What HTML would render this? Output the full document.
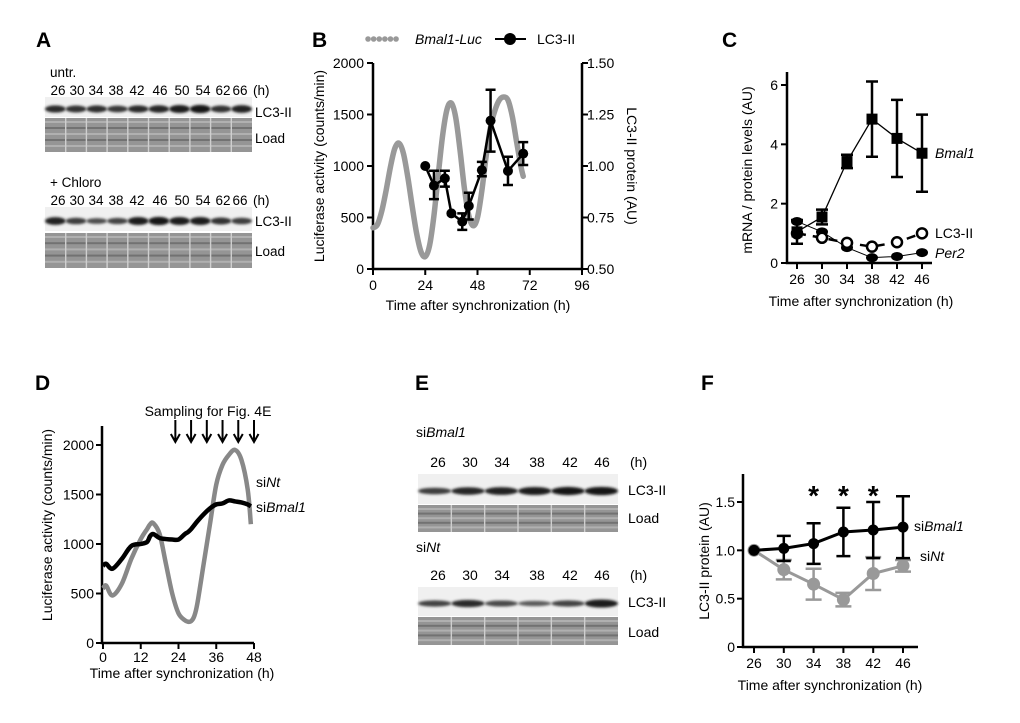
<!DOCTYPE html>
<html><head><meta charset="utf-8">
<style>
html,body{margin:0;padding:0;background:#fff;}
svg{display:block;font-family:"Liberation Sans",Arial,sans-serif;}
.t{font-size:14px;fill:#000;}
#gA .t{font-size:13.5px;}
.lab{font-size:21px;font-weight:bold;fill:#000;}
</style></head>
<body>
<svg id="fig" width="1020" height="723" viewBox="0 0 1020 723">
<defs>
<filter id="blur1" x="-20%" y="-100%" width="140%" height="300%"><feGaussianBlur stdDeviation="1.4"/></filter>
</defs>
<text class="lab" x="36" y="47">A</text>
<text class="lab" x="312" y="47">B</text>
<text class="lab" x="722" y="47">C</text>
<text class="lab" x="35" y="390">D</text>
<text class="lab" x="415" y="390">E</text>
<text class="lab" x="701" y="390">F</text>

<g id="gA"></g>
<g id="gB"></g>
<g id="gC"></g>
<g id="gD"></g>
<g id="gE"></g>
<g id="gF"></g>
</svg>
<script>
// ---------- DATA ----------
const aTimes = ["26","30","34","38","42","46","50","54","62","66"];
const aUntrBand = [0.75,0.7,0.72,0.65,0.75,0.8,0.9,0.95,0.7,0.85];
const aChloroBand = [0.85,0.6,0.45,0.55,0.9,0.95,0.9,0.9,0.7,0.6];
const bLucT = [0,2,4,6,8,10,12,14,16,18,20,22,24,26,28,30,32,34,36,38,40,42,44,46,48,50,52,54,56,58,60,62,64,66,68,69];
const bLucV = [400,430,560,760,990,1170,1220,1120,890,610,350,170,120,230,520,920,1300,1550,1610,1470,1150,780,520,420,500,760,1100,1380,1540,1640,1670,1640,1480,1230,990,900];
const bLcT = [24,28,33,36,41,44,50,54,62,69];
const bLcV = [1.00,0.905,0.94,0.77,0.73,0.806,0.98,1.22,0.976,1.06];
const bLcLo = [null,0.839,0.90,null,0.69,0.74,0.95,1.07,0.908,1.005];
const bLcHi = [null,0.977,0.977,null,0.77,0.87,1.02,1.37,1.045,1.116];
const bXTicks = [0,24,48,72,96];
const bYTicks = [0,500,1000,1500,2000];
const bY2Ticks = ["0.50","0.75","1.00","1.25","1.50"];
const cT = [26,30,34,38,42,46];
const cBmal = [1.05,1.55,3.42,4.85,4.2,3.7];
const cBmalLo = [0.65,1.3,3.2,3.58,2.9,2.4];
const cBmalHi = [1.45,1.8,3.65,6.12,5.5,5.0];
const cLc3 = [1.0,0.85,0.68,0.55,0.7,1.0];
const cPer2 = [1.4,1.05,0.52,0.18,0.22,0.35];
const cYTicks = [0,2,4,6];
const dT = [0,1,3,6,9,12,14,15,16,18,20,22,24,26,27,28,29,30,32,34,36,38,40,42,44,46,47];
const dNt = [550,580,480,600,850,1050,1150,1200,1210,1100,800,500,300,230,215,220,270,400,800,1200,1600,1800,1900,1950,1850,1550,1200];
const dBmal = [780,800,750,850,980,1000,1020,1080,1100,1060,1050,1045,1045,1100,1120,1150,1190,1230,1300,1360,1400,1410,1440,1430,1420,1400,1380];
const dArrows = [23,28,33,38,43,48];
const dXTicks = [0,12,24,36,48];
const dYTicks = [0,500,1000,1500,2000];
const eTimes = ["26","30","34","38","42","46"];
const eBmalBand = [0.6,0.8,0.85,0.9,0.92,0.95];
const eNtBand = [0.55,0.75,0.5,0.35,0.55,0.9];
const fT = [26,30,34,38,42,46];
const fBmal = [1.0,1.02,1.07,1.19,1.21,1.24];
const fBmalLo = [null,0.89,0.86,0.94,0.92,0.92];
const fBmalHi = [null,1.15,1.28,1.44,1.50,1.56];
const fNt = [1.0,0.80,0.65,0.49,0.76,0.84];
const fNtLo = [null,0.70,0.49,0.42,0.59,0.78];
const fNtHi = [null,0.90,0.81,0.56,0.93,0.90];
const fStars = [34,38,42];
const fYTicks = ["0","0.5","1.0","1.5"];

// ---------- HELPERS ----------
const NS="http://www.w3.org/2000/svg";
function mk(parent,tag,attrs,text){const e=document.createElementNS(NS,tag);for(const k in attrs)e.setAttribute(k,attrs[k]);if(text!==undefined)e.textContent=text;parent.appendChild(e);return e;}
function lin(d0,d1,r0,r1){return v=>r0+(v-d0)*(r1-r0)/(d1-d0);}
function smoothPath(pts){let d="M"+pts[0][0]+","+pts[0][1];for(let i=0;i<pts.length-1;i++){const p0=pts[i-1]||pts[i],p1=pts[i],p2=pts[i+1],p3=pts[i+2]||p2;const c1=[p1[0]+(p2[0]-p0[0])/6,p1[1]+(p2[1]-p0[1])/6],c2=[p2[0]-(p3[0]-p1[0])/6,p2[1]-(p3[1]-p1[1])/6];d+=" C"+c1+" "+c2+" "+p2;}return d;}
function errbar(g,x,y1,y2,color,w,name){const e=mk(g,"path",{d:`M${x-w},${y1}H${x+w}M${x},${y1}V${y2}M${x-w},${y2}H${x+w}`,stroke:color,"stroke-width":2.5,fill:"none"});}
function txt(g,x,y,s,opts,name){const e=mk(g,"text",Object.assign({x:x,y:y,class:"t"},opts||{}),s);return e;}

// ---------- BLOTS ----------
function blot(g,x0,x1,yb0,yb1,yl0,yl1,vals,name){
  const r=mk(g,"rect",{x:x0,y:yb0,width:x1-x0,height:yb1-yb0,fill:"#f0f0f0"});
  
  const lw=(x1-x0)/vals.length;const cy=(yb0+yb1)/2+2;
  vals.forEach((v,i)=>{const c=Math.round(130-115*v);const b=mk(g,"ellipse",{cx:x0+lw*(i+0.5),cy:cy,rx:lw*0.5,ry:1.8+2.5*v,fill:`rgb(${c},${c},${c})`,filter:"url(#blur1)"});
    });
  const l=mk(g,"rect",{x:x0,y:yl0,width:x1-x0,height:yl1-yl0,fill:"#959595"});
  
  for(let k=0;k<5;k++){mk(g,"rect",{x:x0,y:yl0+3+k*(yl1-yl0-4)/5,width:x1-x0,height:2,fill:k%2?"#727272":"#b0b0b0"});}
  vals.forEach((v,i)=>{if(i>0)mk(g,"rect",{x:x0+lw*i-0.7,y:yl0,width:1.4,height:yl1-yl0,fill:"#cfcfcf"});});
}
(function(){
  const g=document.getElementById("gA");
  const xs=[58,77,96,116,137,160,182,203,223,240];
  txt(g,50,77,"untr.",{},"untreated-label");
  aTimes.forEach((t,i)=>txt(g,xs[i],95,t,{"text-anchor":"middle"},"time-label"));
  txt(g,253,95,"(h)",{},"hours-unit");
  blot(g,45,252,97,117,118,152,aUntrBand,"untr-blot");
  txt(g,255,117,"LC3-II",{},"lc3-label");txt(g,255,143,"Load",{},"load-label");
  txt(g,50,187,"+ Chloro",{},"chloro-label");
  aTimes.forEach((t,i)=>txt(g,xs[i],205,t,{"text-anchor":"middle"},"time-label"));
  txt(g,253,205,"(h)",{},"hours-unit");
  blot(g,45,252,207,231,233,268,aChloroBand,"chloro-blot");
  txt(g,255,226,"LC3-II",{},"lc3-label");txt(g,255,256,"Load",{},"load-label");
})();
(function(){
  const g=document.getElementById("gE");
  const xs=[438,470,502,537,570,602];
  const si=txt(g,416,437,"si",{},"sibmal1-label");mk(si,"tspan",{"font-style":"italic"},"Bmal1");
  eTimes.forEach((t,i)=>txt(g,xs[i],467,t,{"text-anchor":"middle"},"time-label"));
  txt(g,630,467,"(h)",{},"hours-unit");
  blot(g,418,618,474,504,505,532,eBmalBand,"sibmal1-blot");
  txt(g,628,495,"LC3-II",{},"lc3-label");txt(g,628,523,"Load",{},"load-label");
  const sn=txt(g,416,552,"si",{},"sint-label");mk(sn,"tspan",{"font-style":"italic"},"Nt");
  eTimes.forEach((t,i)=>txt(g,xs[i],580,t,{"text-anchor":"middle"},"time-label"));
  txt(g,630,580,"(h)",{},"hours-unit");
  blot(g,418,618,587,616,617,645,eNtBand,"sint-blot");
  txt(g,628,607,"LC3-II",{},"lc3-label");txt(g,628,637,"Load",{},"load-label");
})();

// ---------- PANEL B ----------
(function(){
  const g=document.getElementById("gB");
  const X=lin(0,96,373,582),Y=lin(0,2000,269,63),Y2=lin(0.5,1.5,269,63);
  const ax=mk(g,"path",{d:"M373,63V269H582V63",stroke:"#000","stroke-width":2.5,fill:"none"});
  
  bXTicks.forEach(t=>{mk(g,"line",{x1:X(t),x2:X(t),y1:269,y2:275,stroke:"#000","stroke-width":2});txt(g,X(t),290,String(t),{"text-anchor":"middle"},"b-x-tick-label");});
  bYTicks.forEach(t=>{mk(g,"line",{x1:367,x2:373,y1:Y(t),y2:Y(t),stroke:"#000","stroke-width":2});txt(g,364,Y(t)+5,String(t),{"text-anchor":"end"},"b-y-tick-label");});
  bY2Ticks.forEach(t=>{const y=Y2(parseFloat(t));mk(g,"line",{x1:582,x2:588,y1:y,y2:y,stroke:"#000","stroke-width":2});txt(g,587,y+5,t,{},"b-y2-tick-label");});
  txt(g,478,310,"Time after synchronization (h)",{"text-anchor":"middle"},"b-x-axis-title");
  txt(g,0,0,"Luciferase activity (counts/min)",{"text-anchor":"middle",transform:"translate(324,166) rotate(-90)"},"b-y-axis-title");
  txt(g,0,0,"LC3-II protein (AU)",{"text-anchor":"middle",transform:"translate(627,166) rotate(90)"},"b-y2-axis-title");
  const luc=mk(g,"path",{d:smoothPath(bLucT.map((t,i)=>[X(t),Y(bLucV[i])])),stroke:"#999","stroke-width":5.5,fill:"none","stroke-linecap":"round"});
  
  const pl=mk(g,"polyline",{points:bLcT.map((t,i)=>X(t)+","+Y2(bLcV[i])).join(" "),stroke:"#000","stroke-width":2.5,fill:"none"});
  
  bLcT.forEach((t,i)=>{if(bLcLo[i]!==null)errbar(g,X(t),Y2(bLcLo[i]),Y2(bLcHi[i]),"#000",5,"lc3-error-bar");
    const c=mk(g,"circle",{cx:X(t),cy:Y2(bLcV[i]),r:5,fill:"#000"});});
  const lg=mk(g,"line",{x1:368,x2:399,y1:39,y2:39,stroke:"#999","stroke-width":5.5,"stroke-linecap":"round","stroke-dasharray":"0.1 5.5"});
  
  txt(g,415,44,"Bmal1-Luc",{"font-style":"italic",fill:"#888"},"legend-luc-label");
  mk(g,"line",{x1:495,x2:526,y1:39,y2:39,stroke:"#000","stroke-width":2});
  const ld=mk(g,"circle",{cx:510,cy:39,r:6,fill:"#000"});
  txt(g,537,44,"LC3-II",{},"legend-lc3-label");
})();

// ---------- PANEL C ----------
(function(){
  const g=document.getElementById("gC");
  const X=lin(26,46,797,922),Y=lin(0,6,263,85);
  const ax=mk(g,"path",{d:"M787,72V263H932",stroke:"#000","stroke-width":2.5,fill:"none"});
  
  cT.forEach(t=>{mk(g,"line",{x1:X(t),x2:X(t),y1:263,y2:269,stroke:"#000","stroke-width":2});txt(g,X(t),284,String(t),{"text-anchor":"middle"},"c-x-tick-label");});
  cYTicks.forEach(t=>{mk(g,"line",{x1:781,x2:787,y1:Y(t),y2:Y(t),stroke:"#000","stroke-width":2});txt(g,778,Y(t)+5,String(t),{"text-anchor":"end"},"c-y-tick-label");});
  txt(g,861,306,"Time after synchronization (h)",{"text-anchor":"middle"},"c-x-axis-title");
  txt(g,0,0,"mRNA / protein levels (AU)",{"text-anchor":"middle",transform:"translate(752,170) rotate(-90)"},"c-y-axis-title");
  const p2=mk(g,"polyline",{points:cT.map((t,i)=>X(t)+","+Y(cPer2[i])).join(" "),stroke:"#000","stroke-width":1,fill:"none"});
  
  cT.forEach((t,i)=>{const e=mk(g,"ellipse",{cx:X(t),cy:Y(cPer2[i]),rx:6,ry:4.5,fill:"#000"});});
  const l3=mk(g,"polyline",{points:cT.map((t,i)=>X(t)+","+Y(cLc3[i])).join(" "),stroke:"#000","stroke-width":2.5,fill:"none","stroke-dasharray":"9 7"});
  
  cT.forEach((t,i)=>{const e=mk(g,"circle",{cx:X(t),cy:Y(cLc3[i]),r:5,fill:"#fff",stroke:"#000","stroke-width":2.5});});
  const bm=mk(g,"polyline",{points:cT.map((t,i)=>X(t)+","+Y(cBmal[i])).join(" "),stroke:"#000","stroke-width":1.3,fill:"none"});
  
  cT.forEach((t,i)=>{errbar(g,X(t),Y(cBmalLo[i]),Y(cBmalHi[i]),"#000",6,"bmal1-error-bar");
    const r=mk(g,"rect",{x:X(t)-5.5,y:Y(cBmal[i])-5.5,width:11,height:11,fill:"#000"});});
  txt(g,935,158,"Bmal1",{"font-style":"italic"},"bmal1-label");
  txt(g,935,238,"LC3-II",{},"c-lc3-label");
  txt(g,935,258,"Per2",{"font-style":"italic"},"per2-label");
})();

// ---------- PANEL D ----------
(function(){
  const g=document.getElementById("gD");
  const X=lin(0,48,103,254),Y=lin(0,2000,643,445);
  const ax=mk(g,"path",{d:"M102,426V643H254",stroke:"#000","stroke-width":2.5,fill:"none"});
  
  dXTicks.forEach(t=>{mk(g,"line",{x1:X(t),x2:X(t),y1:643,y2:649,stroke:"#000","stroke-width":2});txt(g,X(t),662,String(t),{"text-anchor":"middle"},"d-x-tick-label");});
  dYTicks.forEach(t=>{mk(g,"line",{x1:96,x2:102,y1:Y(t),y2:Y(t),stroke:"#000","stroke-width":2});txt(g,94,Y(t)+5,String(t),{"text-anchor":"end"},"d-y-tick-label");});
  txt(g,182,678,"Time after synchronization (h)",{"text-anchor":"middle"},"d-x-axis-title");
  txt(g,0,0,"Luciferase activity (counts/min)",{"text-anchor":"middle",transform:"translate(52,525) rotate(-90)"},"d-y-axis-title");
  const nt=mk(g,"path",{d:smoothPath(dT.map((t,i)=>[X(t),Y(dNt[i])])),stroke:"#888","stroke-width":4.5,fill:"none"});
  
  const bm=mk(g,"path",{d:smoothPath(dT.map((t,i)=>[X(t),Y(dBmal[i])])),stroke:"#000","stroke-width":4.5,fill:"none"});
  
  txt(g,208,416,"Sampling for Fig. 4E",{"text-anchor":"middle"},"sampling-label");
  dArrows.forEach(t=>{const a=mk(g,"path",{d:`M${X(t)},420V441M${X(t)-4.5},434L${X(t)},442L${X(t)+4.5},434`,stroke:"#000","stroke-width":2,fill:"none"});
    });
  const s1=txt(g,256,487,"si",{fill:"#888"},"sint-label");mk(s1,"tspan",{"font-style":"italic"},"Nt");
  const s2=txt(g,256,512,"si",{},"sibmal1-label");mk(s2,"tspan",{"font-style":"italic"},"Bmal1");
})();

// ---------- PANEL F ----------
(function(){
  const g=document.getElementById("gF");
  const X=lin(26,46,754,903),Y=lin(0,1.5,647,502);
  const ax=mk(g,"path",{d:"M743,474V647H918",stroke:"#000","stroke-width":2.5,fill:"none"});
  
  fT.forEach(t=>{mk(g,"line",{x1:X(t),x2:X(t),y1:647,y2:653,stroke:"#000","stroke-width":2});txt(g,X(t),668,String(t),{"text-anchor":"middle"},"f-x-tick-label");});
  fYTicks.forEach(t=>{const y=Y(parseFloat(t));mk(g,"line",{x1:737,x2:743,y1:y,y2:y,stroke:"#000","stroke-width":2});txt(g,735,y+5,t,{"text-anchor":"end"},"f-y-tick-label");});
  txt(g,830,690,"Time after synchronization (h)",{"text-anchor":"middle"},"f-x-axis-title");
  txt(g,0,0,"LC3-II protein (AU)",{"text-anchor":"middle",transform:"translate(709,561) rotate(-90)"},"f-y-axis-title");
  const nl=mk(g,"polyline",{points:fT.map((t,i)=>X(t)+","+Y(fNt[i])).join(" "),stroke:"#999","stroke-width":3,fill:"none"});
  
  fT.forEach((t,i)=>{if(fNtLo[i]!==null)errbar(g,X(t),Y(fNtLo[i]),Y(fNtHi[i]),"#999",8,"f-sint-error-bar");
    const c=mk(g,"circle",{cx:X(t),cy:Y(fNt[i]),r:6.5,fill:"#999"});});
  const bl=mk(g,"polyline",{points:fT.map((t,i)=>X(t)+","+Y(fBmal[i])).join(" "),stroke:"#000","stroke-width":3,fill:"none"});
  
  fT.forEach((t,i)=>{if(fBmalLo[i]!==null)errbar(g,X(t),Y(fBmalLo[i]),Y(fBmalHi[i]),"#000",7,"f-sibmal1-error-bar");
    const c=mk(g,"circle",{cx:X(t),cy:Y(fBmal[i]),r:5.5,fill:"#000"});});
  fStars.forEach(t=>txt(g,X(t),505,"*",{"text-anchor":"middle",style:"font-size:28px;font-weight:bold"},"significance-star"));
  const s1=txt(g,914,531,"si",{},"f-sibmal1-label");mk(s1,"tspan",{"font-style":"italic"},"Bmal1");
  const s2=txt(g,920,561,"si",{fill:"#999"},"f-sint-label");mk(s2,"tspan",{"font-style":"italic"},"Nt");
})();
</script>
</body></html>
